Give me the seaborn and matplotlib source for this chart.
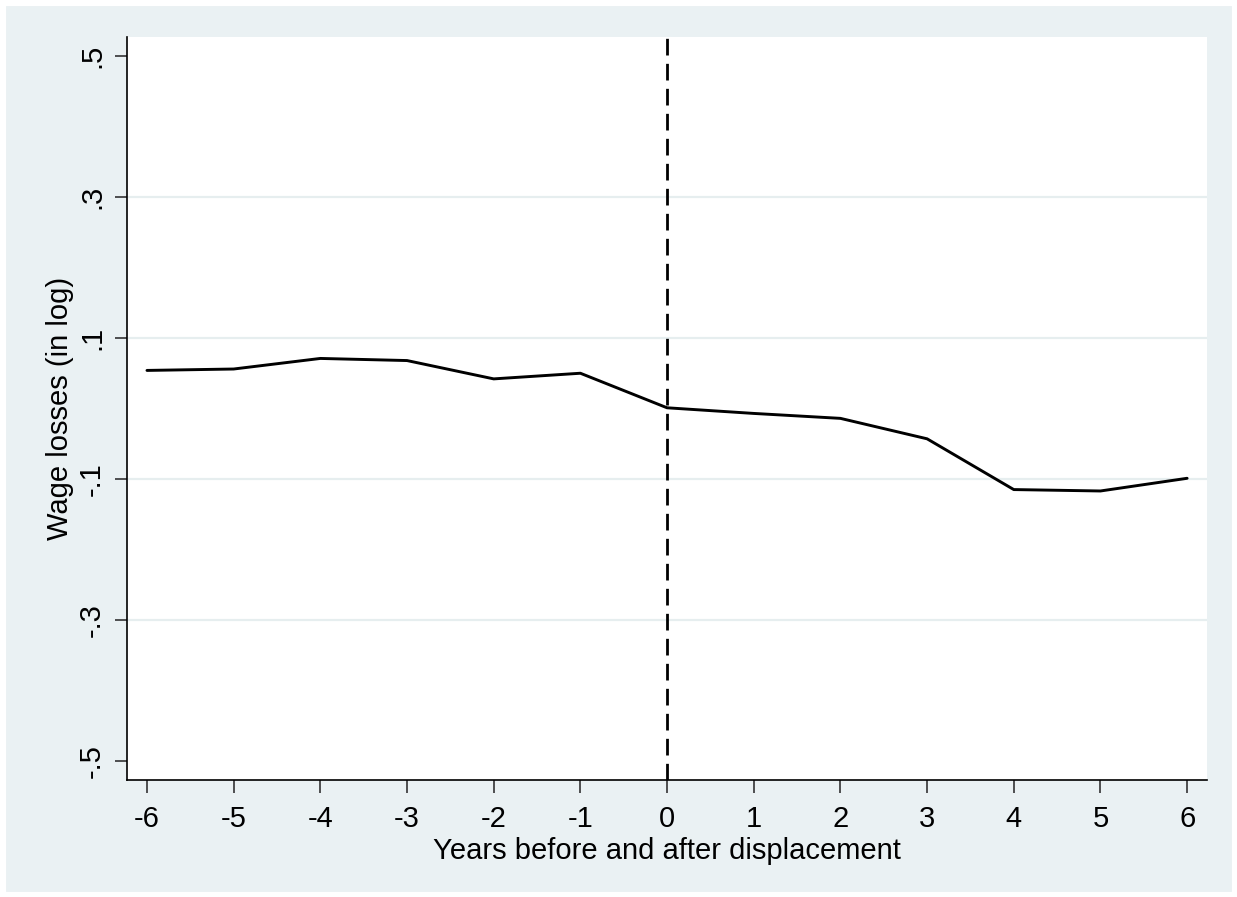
import numpy as np
import pandas as pd
import matplotlib.pyplot as plt
import seaborn as sns
from matplotlib.patches import Rectangle

# Data
years = [-6, -5, -4, -3, -2, -1, 0, 1, 2, 3, 4, 5, 6]
wage_losses = [0.054, 0.056, 0.071, 0.068, 0.042, 0.050, 0.001,
               -0.007, -0.014, -0.043, -0.115, -0.117, -0.099]
y_ticks = [0.5, 0.3, 0.1, -0.1, -0.3, -0.5]
y_tick_labels = [".5", ".3", ".1", "-.1", "-.3", "-.5"]
grid_levels = [0.3, 0.1, -0.1, -0.3]
event_year = 0

df = pd.DataFrame({"Year": years, "Wage losses": wage_losses})

sns.set_style("white")
plt.rcParams['font.family'] = ['Liberation Sans', 'DejaVu Sans']
plt.rcParams['text.color'] = 'black'
plt.rcParams['axes.labelcolor'] = 'black'
plt.rcParams['xtick.color'] = 'black'
plt.rcParams['ytick.color'] = 'black'

bg = "#eaf1f3"
fig = plt.figure(figsize=(12.37, 8.97), dpi=100, facecolor=bg)
fig.patches.append(Rectangle((0, 0), 1, 1, transform=fig.transFigure,
                             fill=False, edgecolor="white", linewidth=8, zorder=0))
ax = fig.add_axes([0.1027, 0.1304, 0.8731, 0.8284])
ax.set_facecolor("white")

# Grid lines
for g in grid_levels:
    ax.axhline(g, color="#e6eeef", linewidth=1.6, zorder=1)

sns.lineplot(data=df, x="Year", y="Wage losses", color="black", linewidth=2.1, ax=ax, zorder=3)
ax.axvline(event_year, color="black", linestyle=(0, (6, 3)), linewidth=2.0, zorder=2)

ax.set_xlim(-6.23, 6.23)
ax.set_ylim(-0.527, 0.527)
ax.set_xticks(years)
ax.set_xticklabels([str(y) for y in years])
ax.set_yticks(y_ticks)
ax.set_yticklabels(y_tick_labels, rotation=90, va="center")

for s in ["top", "right"]:
    ax.spines[s].set_visible(False)
for s in ["left", "bottom"]:
    ax.spines[s].set_color("black")
    ax.spines[s].set_linewidth(1.2)

ax.tick_params(axis="both", direction="out", length=9, width=1.2, color="#333333",
               labelsize=21, pad=6, left=True, bottom=True)
ax.tick_params(axis="x", pad=9)
ax.set_xlabel("Years before and after displacement", fontsize=21, labelpad=3)
ax.set_ylabel("Wage losses (in log)", fontsize=21, labelpad=3)

plt.savefig("out.png", dpi=100, facecolor=bg)
